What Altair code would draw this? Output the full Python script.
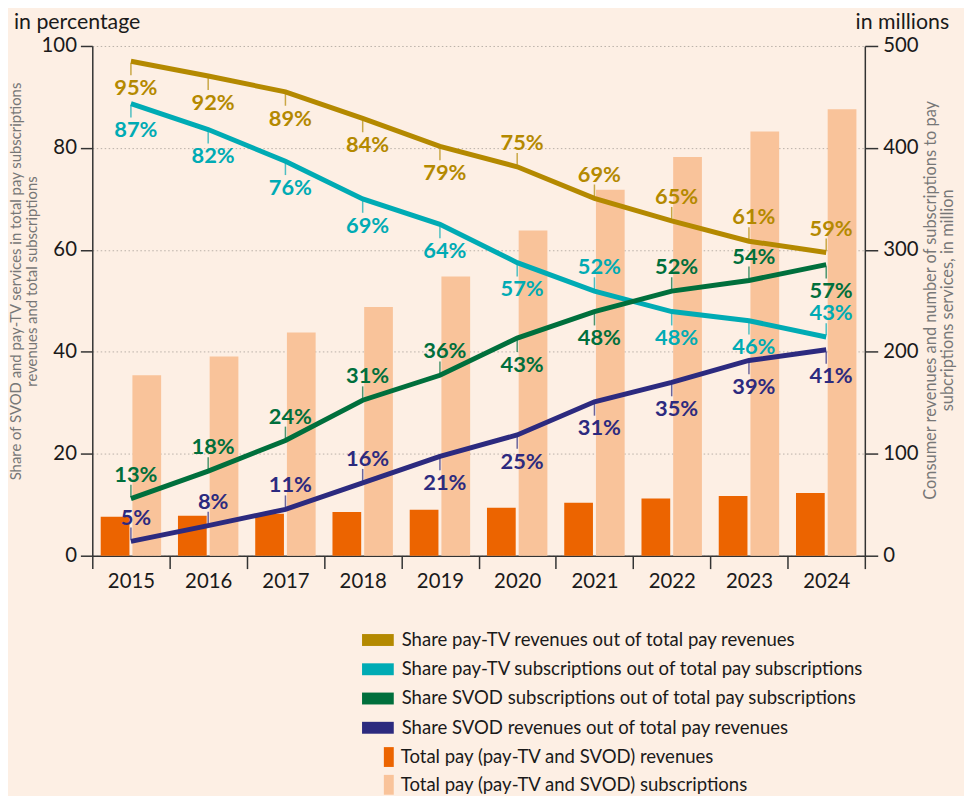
import altair as alt
import pandas as pd

FONT = "Lato"

years = ["2015", "2016", "2017", "2018", "2019", "2020", "2021", "2022", "2023", "2024"]

series_names = [
    "Share pay-TV revenues out of total pay revenues",
    "Share pay-TV subscriptions out of total pay subscriptions",
    "Share SVOD subscriptions out of total pay subscriptions",
    "Share SVOD revenues out of total pay revenues",
]

# line values as drawn (left axis, %)
paytv_rev_share = [97.0, 94.1, 91.0, 85.8, 80.3, 76.3, 70.1, 65.7, 61.7, 59.5]
paytv_sub_share = [88.7, 83.6, 77.4, 70.0, 65.0, 57.5, 51.9, 47.9, 46.1, 42.9]
svod_sub_share = [11.2, 16.6, 22.6, 30.5, 35.4, 42.7, 47.9, 51.9, 54.0, 57.1]
svod_rev_share = [2.8, 5.9, 9.1, 14.3, 19.5, 23.7, 30.2, 34.0, 38.3, 40.4]

# printed labels
paytv_rev_label = ["95%", "92%", "89%", "84%", "79%", "75%", "69%", "65%", "61%", "59%"]
paytv_sub_label = ["87%", "82%", "76%", "69%", "64%", "57%", "52%", "48%", "46%", "43%"]
svod_sub_label = ["13%", "18%", "24%", "31%", "36%", "43%", "48%", "52%", "54%", "57%"]
svod_rev_label = ["5%", "8%", "11%", "16%", "21%", "25%", "31%", "35%", "39%", "41%"]

# label side relative to the line
paytv_rev_pos = ["below"] * 5 + ["above"] * 5
paytv_sub_pos = ["below"] * 6 + ["above", "below", "below", "above"]
svod_sub_pos = ["above"] * 5 + ["below", "below", "above", "above", "below"]
svod_rev_pos = ["above"] * 4 + ["below"] * 6

bar_names = ["Total pay (pay-TV and SVOD) revenues", "Total pay (pay-TV and SVOD) subscriptions"]
total_revenues = [38.2, 39.2, 41.1, 43.0, 45.0, 47.0, 52.0, 56.0, 58.5, 61.5]
total_subscriptions = [177, 195.5, 219, 244, 274, 319, 359, 391, 416, 438]

line_colors = ["#b48900", "#00abb4", "#006f3c", "#2c2a7f"]
bar_colors = ["#ec6400", "#f9c39a"]
BG = "#fdefe4"
INK = "#1a1a1a"
AXIS_INK = "#333333"
GREY = "#777777"

rows = []
for name, vals, labs, poss in zip(
    series_names,
    [paytv_rev_share, paytv_sub_share, svod_sub_share, svod_rev_share],
    [paytv_rev_label, paytv_sub_label, svod_sub_label, svod_rev_label],
    [paytv_rev_pos, paytv_sub_pos, svod_sub_pos, svod_rev_pos],
):
    for yr, v, l, p in zip(years, vals, labs, poss):
        rows.append({"year": yr, "series": name, "value": v, "label": l, "pos": p})
lines_df = pd.DataFrame(rows)

bars_df = pd.DataFrame(
    [{"year": yr, "measure": bar_names[0], "value": v} for yr, v in zip(years, total_revenues)]
    + [{"year": yr, "measure": bar_names[1], "value": v} for yr, v in zip(years, total_subscriptions)]
)

x_enc = alt.X(
    "year:N",
    sort=years,
    scale=alt.Scale(paddingInner=0, paddingOuter=0),
    axis=alt.Axis(
        title=None, labelAngle=0, tickBand="extent", tickSize=13, tickWidth=1.5,
        domainWidth=1.5, domainColor=AXIS_INK, tickColor=AXIS_INK,
        labelFont=FONT, labelFontSize=20.5, labelColor=INK, labelPadding=3, grid=False,
    ),
)

y_pct = alt.Y(
    "value:Q",
    scale=alt.Scale(domain=[0, 100], nice=False),
    axis=alt.Axis(
        orient="left", values=[0, 20, 40, 60, 80, 100], grid=True,
        gridDash=[1.5, 2.5], gridColor="#b9b0a8", gridWidth=1,
        tickSize=12, tickWidth=1.5, domainWidth=1.5, domainColor=AXIS_INK, tickColor=AXIS_INK,
        labelFont=FONT, labelFontSize=20.5, labelColor=INK, labelPadding=4,
        title=["Share of SVOD and pay-TV services in total pay subscriptions",
               "revenues and total subscriptions"],
        titleFont=FONT, titleFontSize=15, titleFontWeight="normal", titleColor=GREY,
        titleAngle=270, titleX=-84, titleY=237, titleBaseline="top", titleAlign="center",
        titleLineHeight=16,
    ),
)

y_mil = alt.Y(
    "value:Q",
    scale=alt.Scale(domain=[0, 500], nice=False),
    axis=alt.Axis(
        orient="right", values=[0, 100, 200, 300, 400, 500], grid=False,
        tickSize=13, tickWidth=1.5, domainWidth=1.5, domainColor=AXIS_INK, tickColor=AXIS_INK,
        labelFont=FONT, labelFontSize=20.5, labelColor=INK, labelPadding=5,
        title=["Consumer revenues and number of subscriptions to pay",
               "subcriptions services, in million"],
        titleFont=FONT, titleFontSize=16.5, titleFontWeight="normal", titleColor=GREY,
        titleAngle=270, titleX=58, titleY=256, titleBaseline="top", titleAlign="center",
        titleLineHeight=17,
    ),
)

color_scale = alt.Scale(domain=series_names, range=line_colors)
fill_scale = alt.Scale(domain=bar_names, range=bar_colors)

bars = alt.Chart(bars_df).mark_bar().encode(
    x=x_enc,
    xOffset=alt.XOffset("measure:N", sort=bar_names,
                        scale=alt.Scale(domain=bar_names, paddingInner=0.09375, paddingOuter=0.2656)),
    y=y_mil,
    fill=alt.Fill(
        "measure:N", scale=fill_scale,
        legend=alt.Legend(
            title=None, orient="none", legendX=289, legendY=707, padding=0,
            symbolType="M-0.5,-1H0.5V1H-0.5Z", symbolSize=400, symbolStrokeWidth=0,
            labelFont=FONT, labelFontSize=18.7, labelColor=INK, labelLimit=1000,
            labelOffset=2, rowPadding=8,
        ),
    ),
)

# legend for the lines: a layer with no rows, whose fill scale carries the series colours
line_legend_layer = alt.Chart(lines_df).transform_filter("false").mark_rect().encode(
    fill=alt.Fill(
        "series:N", scale=alt.Scale(domain=series_names, range=line_colors),
        legend=alt.Legend(
            title=None, orient="none", legendX=278, legendY=589, padding=0,
            symbolType="M-1.6,-0.6H1.6V0.6H-1.6Z", symbolSize=400, symbolStrokeWidth=0,
            symbolOpacity=1,
            labelFont=FONT, labelFontSize=18.7, labelColor=INK, labelLimit=1000,
            labelOffset=14, rowPadding=9.5,
        ),
    ),
)

color_enc = alt.Color("series:N", scale=color_scale, sort=series_names, legend=None)

lines_base = alt.Chart(lines_df)

lines = lines_base.mark_line(strokeWidth=5).encode(
    x=x_enc, y=y_pct, color=color_enc, order=alt.Order("year:N"),
)

leaders_below = lines_base.mark_rule(strokeWidth=1.5, opacity=0.7, yOffset=2, y2Offset=14).encode(
    x=x_enc, y=y_pct, y2=alt.Y2("value:Q"), color=color_enc
).transform_filter(alt.datum.pos == "below")

leaders_above = lines_base.mark_rule(strokeWidth=1.5, opacity=0.7, yOffset=-2, y2Offset=-14).encode(
    x=x_enc, y=y_pct, y2=alt.Y2("value:Q"), color=color_enc
).transform_filter(alt.datum.pos == "above")

labels_below = lines_base.mark_text(
    font=FONT, fontSize=22, fontWeight="bold", baseline="alphabetic", dy=34, dx=5
).encode(x=x_enc, y=y_pct, text="label:N", color=color_enc).transform_filter(
    alt.datum.pos == "below"
)

labels_above = lines_base.mark_text(
    font=FONT, fontSize=22, fontWeight="bold", baseline="alphabetic", dy=-17, dx=5
).encode(x=x_enc, y=y_pct, text="label:N", color=color_enc).transform_filter(
    alt.datum.pos == "above"
)

pct_group = alt.layer(leaders_below, leaders_above, lines, labels_below, labels_above)

unit_left = alt.Chart(pd.DataFrame({"t": ["in percentage"]})).mark_text(
    font=FONT, fontSize=21.5, color=INK, align="left", baseline="middle"
).encode(text="t:N", x=alt.value(-79), y=alt.value(-23))

unit_right = alt.Chart(pd.DataFrame({"t": ["in millions"]})).mark_text(
    font=FONT, fontSize=21.5, color=INK, align="right", baseline="middle"
).encode(text="t:N", x=alt.value(864), y=alt.value(-23))

chart = (
    alt.layer(bars, pct_group, line_legend_layer, unit_left, unit_right)
    .resolve_scale(y="independent", fill="independent")
    .properties(
        width=779, height=514,
        autosize=alt.AutoSizeParams(type="none"),
        padding={"left": 85, "top": 35, "right": 100, "bottom": 239},
        background=BG,
    )
    .configure_view(stroke=None)
)

chart.save("out.html", embed_options={"renderer": "svg", "actions": False})
